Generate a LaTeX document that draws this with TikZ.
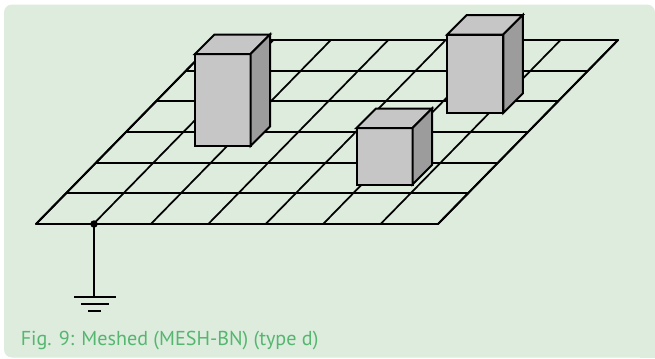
\documentclass[tikz,border=0pt]{standalone}
\usepackage{fontspec}
\setmainfont{PT Sans}
\definecolor{panelc}{HTML}{DDECDD}
\definecolor{capc}{HTML}{55B670}
\definecolor{frontc}{HTML}{C6C6C6}
\definecolor{sidec}{HTML}{9C9C9C}
\tikzset{x=0.75pt,y=-0.75pt,
 gridline/.style={black,line width=1.3pt},
 wire/.style={black,line width=1.5pt},
 boxedge/.style={draw=black,line width=1.5pt,line join=miter},
}
\newcommand{\solid}[7]{% x0 x1 ytop ybot name dx dy
 \coordinate (#5a) at (#1,#3);
 \coordinate (#5b) at (#2,#3);
 \coordinate (#5c) at (#2,#4);
 \coordinate (#5d) at (#1,#4);
 \coordinate (#5e) at (#1+#6,#3-#7);
 \coordinate (#5f) at (#2+#6,#3-#7);
 \coordinate (#5g) at (#2+#6,#4-#7);
 \fill[frontc,boxedge] (#5a) -- (#5b) -- (#5c) -- (#5d) -- cycle;
 \fill[frontc,boxedge] (#5a) -- (#5e) -- (#5f) -- (#5b) -- cycle;
 \fill[sidec,boxedge] (#5b) -- (#5f) -- (#5g) -- (#5c) -- cycle;
}
\begin{document}
\begin{tikzpicture}
\useasboundingbox (0,0) rectangle (655,358);
\fill[white] (0,0) rectangle (655,358);
\begin{scope}
\clip (0,0) rectangle (655,357.5);
\fill[panelc,rounded corners=6pt] (4,4.5) rectangle (655,357.5);
\fill[panelc] (640,100) rectangle (655,357.5);
\end{scope}
% mesh
\foreach \i in {0,...,6}{
  \pgfmathsetmacro{\yy}{224-\i*184/6}
  \pgfmathsetmacro{\xa}{36+\i*180/6}
  \pgfmathsetmacro{\xb}{438+\i*180/6}
  \coordinate (hl\i) at (\xa,\yy);
  \coordinate (hr\i) at (\xb,\yy);
  \draw[gridline] (hl\i) -- (hr\i);
}
\foreach \j in {0,...,7}{
  \pgfmathsetmacro{\xa}{36+\j*402/7}
  \pgfmathsetmacro{\xb}{216+\j*402/7}
  \coordinate (vb\j) at (\xa,224);
  \coordinate (vt\j) at (\xb,40);
  \draw[gridline,line cap=round] (vb\j) -- (vt\j);
}
\draw[wire,line cap=round] (hl6) -- (hr6);
\draw[wire,line cap=round] (hl0) -- (hr0);
\draw[wire,line cap=round] (hr0) -- (hr6);
\draw[wire,line cap=round] (hl0) -- (hl6);
% boxes
\solid{195}{250.5}{54}{146}{p}{19.5}{19.5}
\solid{447.3}{503.3}{34.5}{113}{q}{19.5}{19.5}
\solid{356.5}{412.5}{128}{184.5}{r}{19.5}{19.5}
% earth
\coordinate (tap) at (94,224);
\coordinate (gnd) at (94,297);
\draw[wire] (tap) -- (gnd);
\fill[black] (tap) circle[radius=2.8pt];
\draw[black,line width=1.5pt] (74,297) -- (115.5,297);
\draw[black,line width=1.5pt] (81,304) -- (109,304);
\draw[black,line width=1.5pt] (88,311) -- (101,311);
\node[anchor=base west,inner sep=0pt,text=capc,font=\fontsize{15.1}{17}\selectfont] (cap) at (20.5,345.5) {Fig. 9: Meshed (MESH-BN) (type d)};
\end{tikzpicture}
\end{document}
